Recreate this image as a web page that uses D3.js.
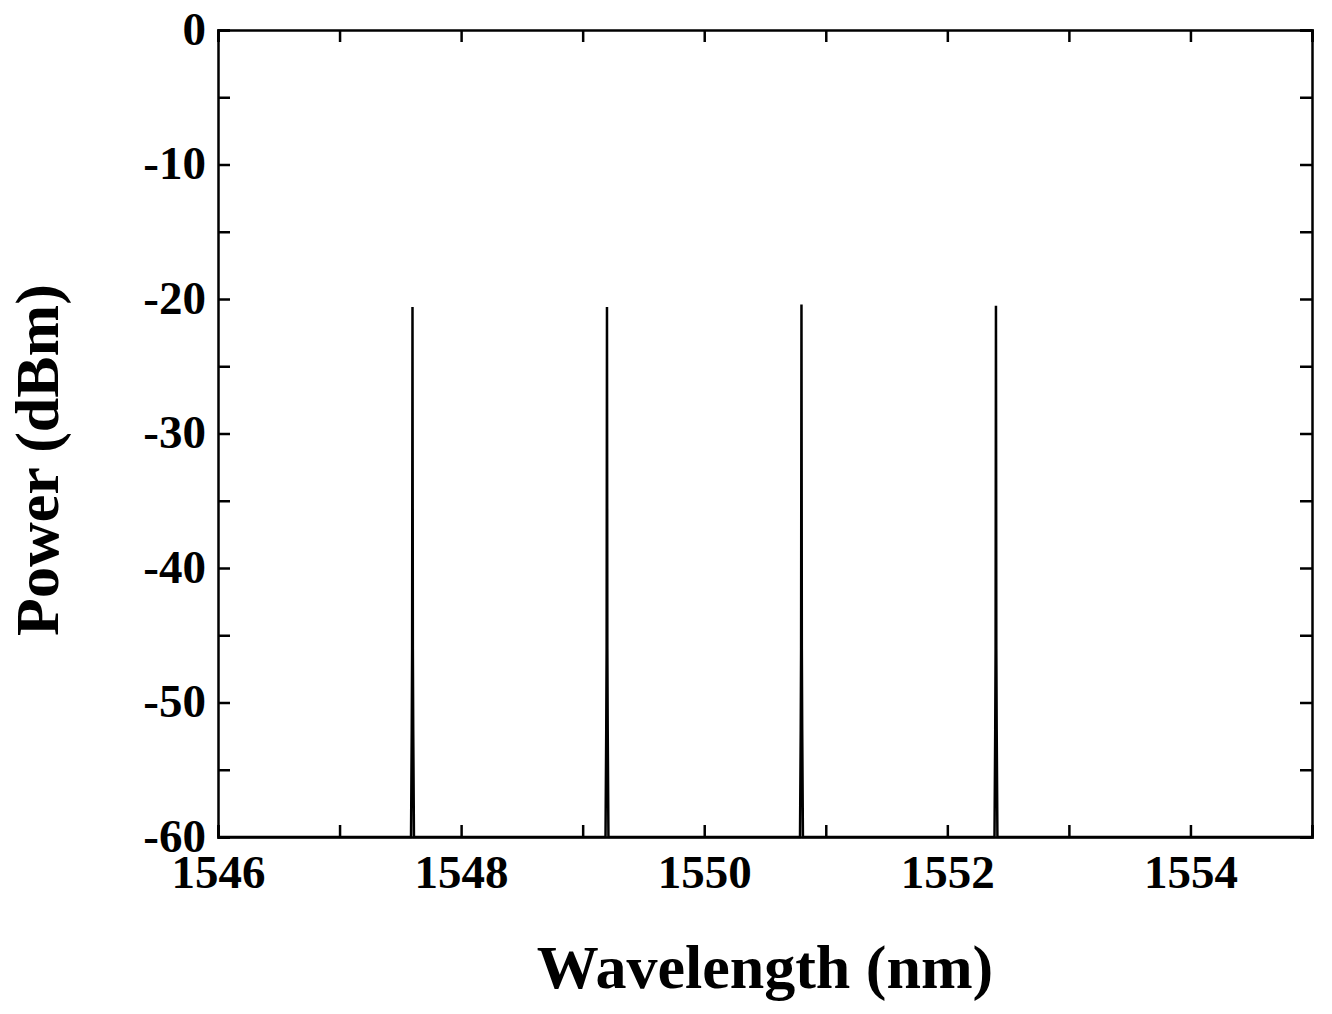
<!DOCTYPE html>
<html><head><meta charset="utf-8">
<script src="https://cdn.jsdelivr.net/npm/d3@7"></script>
<style>body{margin:0;background:#fff}text{font-family:"Liberation Serif","Times New Roman",serif;font-weight:bold}</style>
</head><body><svg id="c" width="1332" height="1014"></svg>
<script>
// peak centres (nm) and peak power (dBm)
var peakWl = [1547.6, 1549.2, 1550.8, 1552.4];
var peakPow = [-20.6, -20.6, -20.4, -20.5];
// spectral shape around each peak: offset (nm) and level (dBm)
var shapeOff = [-0.012, -0.006, -0.003, 0, 0.003, 0.006, 0.012];
var shapeLvl = [-60, -52, -46, null, -46, -52, -60];
var xTicks = [1546, 1548, 1550, 1552, 1554];
var yTicks = [0, -10, -20, -30, -40, -50, -60];

var svg = d3.select("#c");
var L = 218, R = 1312, T = 30, B = 837;
var x = d3.scaleLinear().domain([1546, 1555]).range([L, R]);
var y = d3.scaleLinear().domain([-60, 0]).range([B, T]);

// spectrum points
var pts = [[1546, -60]];
peakWl.forEach(function(w, i){
  shapeOff.forEach(function(o, j){
    pts.push([w + o, shapeLvl[j] === null ? peakPow[i] : shapeLvl[j]]);
  });
});
pts.push([1555, -60]);

svg.append("path").datum(pts)
  .attr("d", d3.line().x(function(d){return x(d[0]);}).y(function(d){return y(d[1]);}))
  .attr("fill", "none").attr("stroke", "#000").attr("stroke-width", 2.5);

// axes, ticks inward
var gB = svg.append("g").attr("transform", "translate(0," + B + ")")
  .call(d3.axisBottom(x).tickValues(d3.range(1546, 1556, 1)).tickSize(-12).tickPadding(18)
    .tickFormat(function(d){return xTicks.indexOf(d) >= 0 ? d : "";}));
var gT = svg.append("g").attr("transform", "translate(0," + T + ")")
  .call(d3.axisTop(x).tickValues(d3.range(1546, 1556, 1)).tickSize(-12).tickFormat(""));
var gL = svg.append("g").attr("transform", "translate(" + L + ",0)")
  .call(d3.axisLeft(y).tickValues(d3.range(-60, 1, 5)).tickSize(-12).tickPadding(12)
    .tickFormat(function(d){return yTicks.indexOf(d) >= 0 ? d : "";}));
var gR = svg.append("g").attr("transform", "translate(" + R + ",0)")
  .call(d3.axisRight(y).tickValues(d3.range(-60, 1, 5)).tickSize(-12).tickFormat(""));
[gB, gT, gL, gR].forEach(function(g){
  g.select(".domain").attr("stroke-width", 2.5);
  g.selectAll(".tick line").attr("stroke-width", 2.5);
  g.selectAll("text").style("font-size", "47px").attr("fill", "#000");
});
gL.selectAll(".tick text").attr("dy", "0.3em");

svg.append("text").attr("x", 765).attr("y", 988)
  .attr("text-anchor", "middle").style("font-size", "62px").text("Wavelength (nm)");
svg.append("text").attr("transform", "translate(58,460) rotate(-90)")
  .attr("text-anchor", "middle").style("font-size", "62px").text("Power (dBm)");
</script></body></html>
